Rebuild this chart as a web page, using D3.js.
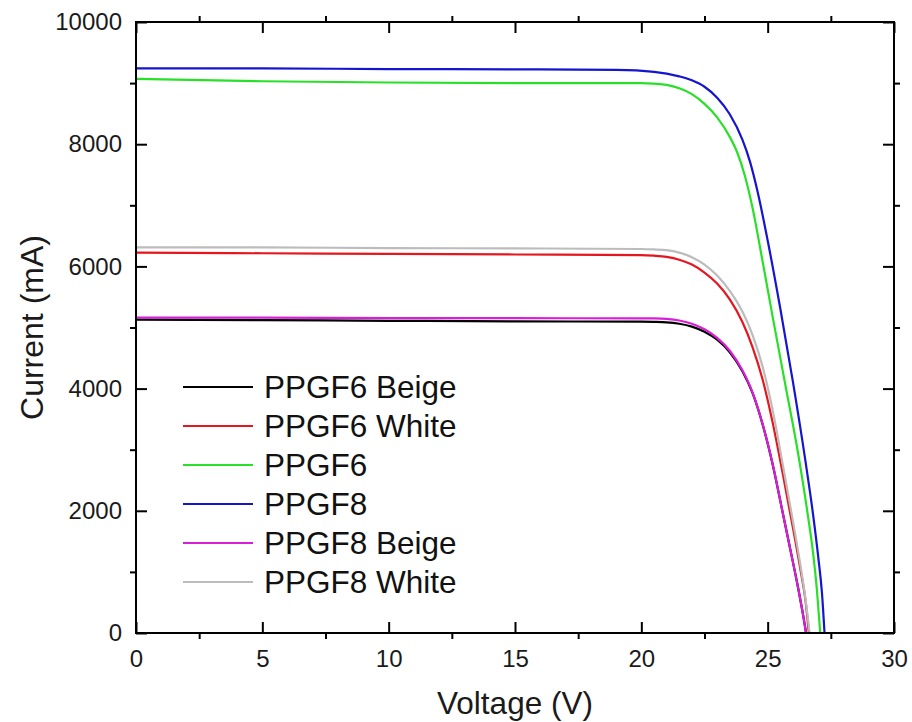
<!DOCTYPE html>
<html>
<head>
<meta charset="utf-8">
<script src="https://cdn.jsdelivr.net/npm/d3@7"></script>
<style>
  html, body { margin: 0; padding: 0; background: #fff; }
  svg { display: block; font-family: "Liberation Sans", Arial, sans-serif; }
</style>
</head>
<body>
<svg id="chart" width="912" height="722"></svg>
<script>
// I-V curves of the panel variants: voltage (V) against current (mA)
const seriesNames = ["PPGF6 Beige", "PPGF6 White", "PPGF6", "PPGF8", "PPGF8 Beige", "PPGF8 White"];
const seriesColors = ["#000000", "#e5161e", "#28e028", "#1515d0", "#d81ed8", "#bcbcbc"];

const voltsPPGF6Beige = [0, 5, 10, 15, 20, 20.5, 21.0, 21.5, 22.0, 22.5, 23.0, 23.5, 24.0, 24.4, 24.8, 25.2, 25.6, 26.0, 26.2, 26.4, 26.52];
const ampsPPGF6Beige  = [5130, 5120, 5110, 5100, 5095, 5092, 5085, 5062, 5015, 4930, 4800, 4595, 4285, 3930, 3415, 2755, 1960, 1160, 750, 300, 0];

const voltsPPGF6White = [0, 5, 10, 15, 20, 20.5, 21.0, 21.5, 22.0, 22.5, 23.0, 23.5, 24.0, 24.4, 24.8, 25.2, 25.6, 26.0, 26.3, 26.5, 26.63];
const ampsPPGF6White  = [6225, 6215, 6205, 6195, 6185, 6175, 6155, 6110, 6030, 5900, 5720, 5460, 5090, 4680, 4150, 3440, 2600, 1720, 1030, 520, 0];

const voltsPPGF6 = [0, 5, 10, 15, 20, 20.5, 21.0, 21.5, 22.0, 22.5, 23.0, 23.5, 23.8, 24.1, 24.4, 24.8, 25.2, 25.7, 26.2, 26.6, 26.8, 26.95, 27.08];
const ampsPPGF6  = [9070, 9030, 9010, 9000, 9000, 8990, 8970, 8915, 8820, 8660, 8440, 8120, 7860, 7480, 6960, 6080, 5170, 4060, 2950, 1900, 1300, 700, 0];

const voltsPPGF8 = [0, 5, 10, 15, 19, 20.5, 21.5, 22.0, 22.5, 23.0, 23.5, 24.0, 24.3, 24.6, 25.0, 25.5, 26.0, 26.5, 26.8, 27.0, 27.15, 27.25];
const ampsPPGF8  = [9240, 9240, 9230, 9225, 9215, 9185, 9110, 9045, 8940, 8760, 8490, 8075, 7715, 7225, 6425, 5310, 4110, 2800, 1930, 1250, 650, 0];

const voltsPPGF8Beige = [0, 5, 10, 15, 20, 20.5, 21.0, 21.5, 22.0, 22.5, 23.0, 23.5, 24.0, 24.4, 24.8, 25.2, 25.6, 26.0, 26.2, 26.4, 26.52];
const ampsPPGF8Beige  = [5160, 5160, 5155, 5152, 5150, 5148, 5140, 5115, 5060, 4970, 4830, 4620, 4300, 3940, 3420, 2760, 1960, 1160, 750, 300, 0];

const voltsPPGF8White = [0, 5, 10, 15, 20, 20.5, 21.0, 21.5, 22.0, 22.5, 23.0, 23.5, 24.0, 24.4, 24.8, 25.2, 25.6, 26.0, 26.3, 26.5, 26.66];
const ampsPPGF8White  = [6310, 6310, 6300, 6295, 6285, 6278, 6265, 6225, 6150, 6030, 5850, 5600, 5260, 4880, 4360, 3640, 2750, 1830, 1100, 550, 0];

const xMajorTicks = [0, 5, 10, 15, 20, 25, 30];
const xMinorTicks = [2.5, 7.5, 12.5, 17.5, 22.5, 27.5];
const yMajorTicks = [0, 2000, 4000, 6000, 8000, 10000];
const yMinorTicks = [1000, 3000, 5000, 7000, 9000];

const seriesVolts = [voltsPPGF6Beige, voltsPPGF6White, voltsPPGF6, voltsPPGF8, voltsPPGF8Beige, voltsPPGF8White];
const seriesAmps  = [ampsPPGF6Beige, ampsPPGF6White, ampsPPGF6, ampsPPGF8, ampsPPGF8Beige, ampsPPGF8White];

const series = seriesNames.map((name, k) => ({
  name,
  color: seriesColors[k],
  points: seriesVolts[k].map((v, j) => ({ v, i: seriesAmps[k][j] }))
}));

const plotLeft = 136, plotRight = 894, plotTop = 22, plotBottom = 633;
const svg = d3.select("#chart");

const x = d3.scaleLinear().domain([0, 30]).range([plotLeft, plotRight]);
const y = d3.scaleLinear().domain([0, 10000]).range([plotBottom, plotTop]);

// curves
const line = d3.line()
  .x(d => x(d.v))
  .y(d => y(d.i))
  .curve(d3.curveMonotoneX);

const plot = svg.append("g");
plot.selectAll("path")
  .data(series)
  .join("path")
  .attr("d", d => line(d.points))
  .attr("fill", "none")
  .attr("stroke", d => d.color)
  .attr("stroke-width", 2.2)
  .attr("stroke-linejoin", "round");

// axes: major ticks point inward, minor ticks outward, on all four sides
function styleAxis(g) {
  g.selectAll(".domain").remove();
  g.selectAll(".tick line").attr("stroke", "#000").attr("stroke-width", 2);
}
const fmt = d3.format("d");
const tickFont = 24;

const axBottom = svg.append("g").attr("transform", `translate(0,${plotBottom})`)
  .call(d3.axisBottom(x).tickValues(xMajorTicks).tickSizeInner(-11).tickSizeOuter(0).tickPadding(17).tickFormat(fmt));
styleAxis(axBottom);
axBottom.selectAll("text").attr("font-size", tickFont).attr("fill", "#1a1a1a").attr("font-family", "Liberation Sans, Arial, sans-serif");

svg.append("g").attr("transform", `translate(0,${plotBottom})`)
  .call(d3.axisBottom(x).tickValues(xMinorTicks).tickSize(6).tickFormat(""))
  .call(styleAxis);

svg.append("g").attr("transform", `translate(0,${plotTop})`)
  .call(d3.axisTop(x).tickValues(xMajorTicks).tickSizeInner(-11).tickSizeOuter(0).tickFormat(""))
  .call(styleAxis);
svg.append("g").attr("transform", `translate(0,${plotTop})`)
  .call(d3.axisTop(x).tickValues(xMinorTicks).tickSize(6).tickFormat(""))
  .call(styleAxis);

const axLeft = svg.append("g").attr("transform", `translate(${plotLeft},0)`)
  .call(d3.axisLeft(y).tickValues(yMajorTicks).tickSizeInner(-11).tickSizeOuter(0).tickPadding(14).tickFormat(fmt));
styleAxis(axLeft);
axLeft.selectAll("text").attr("font-size", tickFont).attr("fill", "#1a1a1a").attr("font-family", "Liberation Sans, Arial, sans-serif");

svg.append("g").attr("transform", `translate(${plotLeft},0)`)
  .call(d3.axisLeft(y).tickValues(yMinorTicks).tickSize(6).tickFormat(""))
  .call(styleAxis);

svg.append("g").attr("transform", `translate(${plotRight},0)`)
  .call(d3.axisRight(y).tickValues(yMajorTicks).tickSizeInner(-11).tickSizeOuter(0).tickFormat(""))
  .call(styleAxis);
svg.append("g").attr("transform", `translate(${plotRight},0)`)
  .call(d3.axisRight(y).tickValues(yMinorTicks).tickSize(6).tickFormat(""))
  .call(styleAxis);

// frame
svg.append("rect")
  .attr("x", plotLeft).attr("y", plotTop)
  .attr("width", plotRight - plotLeft).attr("height", plotBottom - plotTop)
  .attr("fill", "none").attr("stroke", "#000").attr("stroke-width", 2);

// axis titles
svg.append("text")
  .attr("x", (plotLeft + plotRight) / 2).attr("y", 714)
  .attr("text-anchor", "middle")
  .attr("font-size", 31.5).attr("fill", "#1a1a1a")
  .text("Voltage (V)");

svg.append("text")
  .attr("transform", `translate(43,${(plotTop + plotBottom) / 2}) rotate(-90)`)
  .attr("text-anchor", "middle")
  .attr("font-size", 32).attr("fill", "#1a1a1a")
  .text("Current (mA)");

// legend
const legend = svg.append("g").attr("transform", "translate(183,387)");
const rows = legend.selectAll("g")
  .data(series)
  .join("g")
  .attr("transform", (d, k) => `translate(0,${k * 39})`);
rows.append("line")
  .attr("x1", 0).attr("x2", 70)
  .attr("y1", 0).attr("y2", 0)
  .attr("stroke", d => d.color).attr("stroke-width", 2);
rows.append("text")
  .attr("x", 81).attr("y", 11)
  .attr("font-size", 31.5).attr("fill", "#111")
  .text(d => d.name);
</script>
</body>
</html>
